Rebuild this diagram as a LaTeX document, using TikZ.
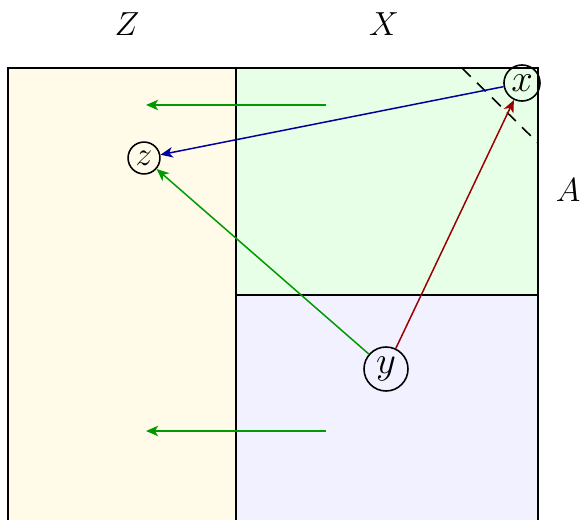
\documentclass[tikz,border=0pt]{standalone}
\usepackage{amsmath,amssymb}
\usepackage{xcolor}
\definecolor{zonez}{HTML}{FFFBE8}
\definecolor{zonex}{HTML}{E6FFE6}
\definecolor{zoney}{HTML}{F1F1FF}
\definecolor{mapblue}{HTML}{00009C}
\definecolor{mapgreen}{HTML}{009900}
\definecolor{mapred}{HTML}{9C0000}
\usetikzlibrary{arrows.meta,positioning,calc}

\begin{document}
\begin{tikzpicture}[x=0.02cm,y=-0.02cm,
  zone/.style={draw,line width=1.2pt},
  pt/.style={draw,circle,line width=0.9pt,inner sep=0pt},
  map/.style={line width=0.85pt,-{Stealth[length=7pt,width=6pt,inset=2pt]}},
  lbl/.style={font=\LARGE,scale=1.1}]
\useasboundingbox (0,0) rectangle (581,520);
% regions
\fill[zonez] (8,68) rectangle (236,580);
\fill[zonex] (236,68) rectangle (538,295);
\fill[zoney] (236,295) rectangle (538,580);
\draw[zone] (8,580) -- (8,68) -- (236,68) -- (236,580);
\draw[zone] (236,68) rectangle (538,295);
\draw[zone] (236,295) -- (538,295) -- (538,580);
\draw[line width=0.9pt,dashed,dash pattern=on 7pt off 5pt] (462,68) -- (538,143);
% labels
\node[lbl] (labz) at (127,24) {$Z$};
\node[lbl] (labx) at (384,24) {$X$};
\node[lbl] (laba) at (568,190) {$A$};
% points
\node[pt,minimum size=0.68cm,font=\huge,scale=1.06] (x) at (522,83) {$x$};
\node[pt,minimum size=0.58cm,font=\LARGE,scale=1.1] (z) at (144,158) {$z$};
\node[pt,minimum size=0.83cm,font=\huge,scale=1.06] (y) at (386,369) {$y$};
% maps
\coordinate (t1) at (326,105); \coordinate (h1) at (146,105);
\coordinate (t2) at (326,431); \coordinate (h2) at (146,431);
\draw[map,mapgreen] (t1) -- (h1);
\draw[map,mapgreen] (t2) -- (h2);
\draw[map,mapblue] (x) -- (z);
\draw[map,mapgreen] (y) -- (z);
\draw[map,mapred] (y) -- (x);
\end{tikzpicture}
\end{document}
